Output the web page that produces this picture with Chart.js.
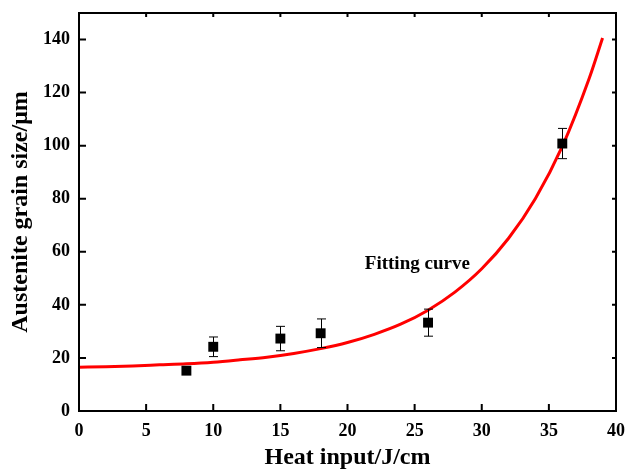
<!DOCTYPE html>
<html>
<head>
<meta charset="utf-8">
<script src="https://cdn.jsdelivr.net/npm/chart.js@4.4.1/dist/chart.umd.min.js"></script>
<style>
    html, body { margin: 0; padding: 0; background: #fff; }
    #wrap { width: 628px; height: 472px; position: relative; }
</style>
</head>
<body>
<div id="wrap"><canvas id="grainChart"></canvas></div>
<script>
    // measured points (heat input J/cm -> grain size um) with error bars
    const heatInput = [8, 10, 15, 18, 26, 36];
    const grainSize = [15.2, 24.2, 27.3, 29.3, 33.3, 100.8];
    const grainErr = [0, 3.7, 4.6, 5.4, 5.1, 5.7];

    // fitting curve
    const curveX = [0, 2, 4, 6, 8, 10, 12, 14, 16, 18, 20, 22, 24, 26, 28, 30, 32, 34, 36, 38, 39];
    const curveY = [16.5, 16.7, 17.0, 17.4, 17.8, 18.4, 19.3, 20.3, 21.7, 23.5, 25.8, 28.9, 32.8, 38.0, 44.8, 53.6, 65.1, 80.1, 99.7, 125.3, 140.6];

    const xTicks = [0, 5, 10, 15, 20, 25, 30, 35, 40];
    const yTicks = [0, 20, 40, 60, 80, 100, 120, 140];

    const SERIF = '"Liberation Serif", "Times New Roman", serif';

    const frameAndBars = {
        id: 'frameAndBars',
        afterDatasetsDraw(chart) {
            const { ctx, chartArea: a, scales: { x, y } } = chart;
            ctx.save();
            // error bars
            ctx.strokeStyle = '#000';
            ctx.lineWidth = 1;
            heatInput.forEach((hx, i) => {
                if (!grainErr[i]) return;
                const px = Math.round(x.getPixelForValue(hx)) + 0.5;
                const top = y.getPixelForValue(grainSize[i] + grainErr[i]);
                const bot = y.getPixelForValue(grainSize[i] - grainErr[i]);
                ctx.beginPath();
                ctx.moveTo(px, top); ctx.lineTo(px, bot);
                ctx.moveTo(px - 4.5, top); ctx.lineTo(px + 4.5, top);
                ctx.moveTo(px - 4.5, bot); ctx.lineTo(px + 4.5, bot);
                ctx.stroke();
            });
            // frame
            ctx.lineWidth = 2;
            ctx.strokeRect(a.left, a.top, a.right - a.left, a.bottom - a.top);
            // inward ticks on all four sides
            ctx.beginPath();
            xTicks.forEach(v => {
                const px = x.getPixelForValue(v);
                ctx.moveTo(px, a.bottom); ctx.lineTo(px, a.bottom - 7);
                ctx.moveTo(px, a.top); ctx.lineTo(px, a.top + 4);
            });
            yTicks.forEach(v => {
                const py = y.getPixelForValue(v);
                ctx.moveTo(a.left, py); ctx.lineTo(a.left + 7, py);
                ctx.moveTo(a.right, py); ctx.lineTo(a.right - 4, py);
            });
            ctx.stroke();
            // curve label
            ctx.fillStyle = '#000';
            ctx.font = 'bold 19px ' + SERIF;
            ctx.textAlign = 'center';
            ctx.textBaseline = 'middle';
            ctx.fillText('Fitting curve', x.getPixelForValue(25.2), y.getPixelForValue(55.5));
            ctx.restore();
        }
    };

    new Chart(document.getElementById('grainChart'), {
        type: 'scatter',
        data: {
            datasets: [{
                label: 'Fitting curve',
                data: curveX.map((v, i) => ({ x: v, y: curveY[i] })),
                showLine: true,
                borderColor: '#ff0000',
                borderWidth: 3,
                pointRadius: 0,
                cubicInterpolationMode: 'monotone',
                order: 2
            }, {
                label: 'Grain size',
                data: heatInput.map((v, i) => ({ x: v, y: grainSize[i] })),
                pointStyle: 'rect',
                pointRadius: 7,
                backgroundColor: '#000',
                borderColor: '#000',
                borderWidth: 0,
                order: 1
            }]
        },
        options: {
            responsive: true,
            maintainAspectRatio: false,
            animation: false,
            layout: { padding: { top: 13, right: 12, left: 0, bottom: 0 } },
            plugins: { legend: { display: false }, tooltip: { enabled: false } },
            scales: {
                x: {
                    type: 'linear', min: 0, max: 40,
                    afterBuildTicks: s => { s.ticks = xTicks.map(v => ({ value: v })); },
                    afterFit: s => { s.height = 61; s.paddingLeft = 0; s.paddingRight = 0; },
                    grid: { display: false, drawTicks: false },
                    border: { display: false },
                    ticks: { color: '#000', padding: 10, maxRotation: 0, font: { family: SERIF, size: 18, weight: 'bold' } },
                    title: { display: true, text: 'Heat input/J/cm', color: '#000', padding: { top: 5, bottom: 0 }, font: { family: SERIF, size: 24, weight: 'bold' } }
                },
                y: {
                    type: 'linear', min: 0, max: 150,
                    afterBuildTicks: s => { s.ticks = yTicks.map(v => ({ value: v })); },
                    afterFit: s => { s.width = 79; s.paddingTop = 0; s.paddingBottom = 0; },
                    grid: { display: false, drawTicks: false },
                    border: { display: false },
                    ticks: { color: '#000', padding: 9, font: { family: SERIF, size: 18, weight: 'bold' } },
                    title: { display: true, text: 'Austenite grain size/μm', color: '#000', padding: { top: 6, bottom: 2 }, font: { family: SERIF, size: 24, weight: 'bold' } }
                }
            }
        },
        plugins: [frameAndBars]
    });
</script>
</body>
</html>
